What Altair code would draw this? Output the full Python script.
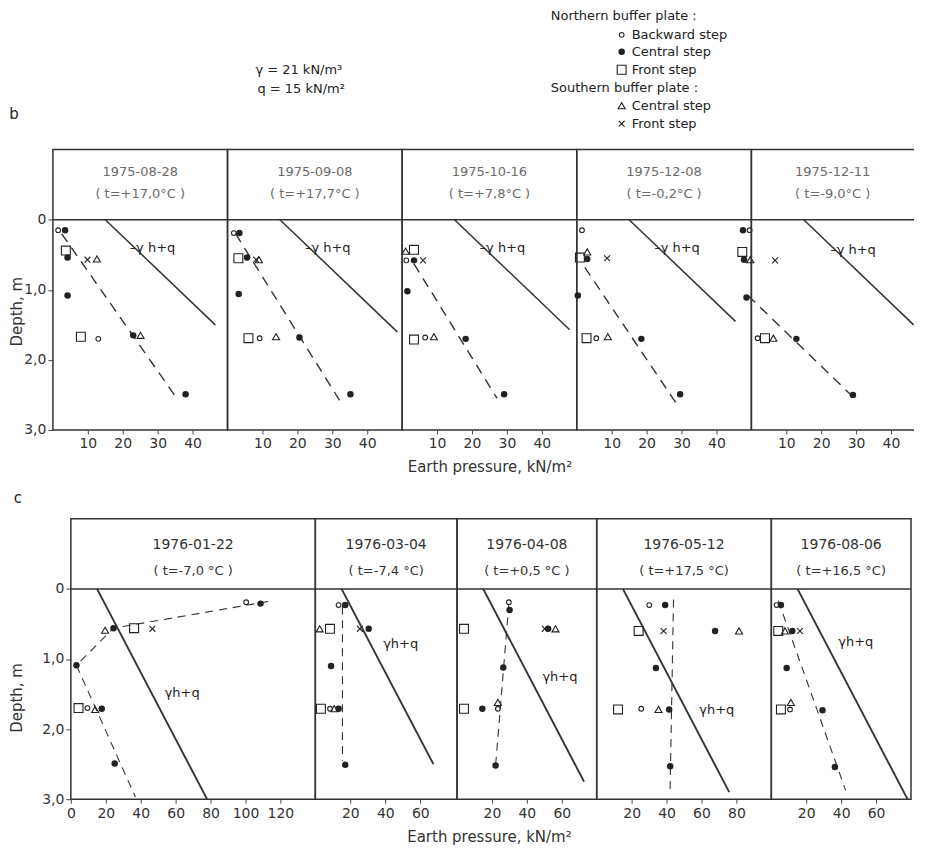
import altair as alt
import pandas as pd

# ---------------- parameters of the theoretical line  (gamma*h + q) ----------------
GAMMA = 21   # kN/m3
Q = 15       # kN/m2

# ---------------- panel headers ----------------
B_DATES = ["1975-08-28", "1975-09-08", "1975-10-16", "1975-12-08", "1975-12-11"]
B_TEMPS = ["( t=+17,0°C )", "( t=+17,7°C )", "( t=+7,8°C )", "( t=-0,2°C )", "( t=-9,0°C )"]
C_DATES = ["1976-01-22", "1976-03-04", "1976-04-08", "1976-05-12", "1976-08-06"]
C_TEMPS = ["( t=-7,0 °C  )", "( t=-7,4 °C)", "( t=+0,5 °C )", "( t=+17,5 °C)", "( t=+16,5 °C)"]

# x-axis ranges and tick labels
B_XMAX = [50, 50, 50, 50, 46.6]
C_XMAX = [140, 81, 80, 100, 80]
B_TICKS = [[10, 20, 30, 40]] * 5
C_TICKS = [[0, 20, 40, 60, 80, 100, 120], [20, 40, 60], [20, 40, 60], [20, 40, 60, 80], [20, 40, 60]]
Y_TICKS = [0, 1, 2, 3]

# depth where the gamma*h+q line ends, and depth of its label
B_LINE_END = [1.5, 1.6, 1.57, 1.45, 1.5]
C_LINE_END = [3.0, 2.5, 2.75, 2.9, 3.0]
B_LABEL_D = [0.40, 0.41, 0.41, 0.41, 0.43]
C_LABEL_D = [1.49, 0.78, 1.26, 1.73, 0.76]

# ---------------- measured earth pressure (kN/m2, depth m) ----------------
# series: back = northern backward step, cen = northern central step,
# front = northern front step, s_cen = southern central step, s_front = southern front step
B1_BACK = [(1.5, 0.15), (13.0, 1.70)]
B1_CEN = [(3.5, 0.15), (4.2, 0.54), (4.2, 1.08), (23.0, 1.65), (38.0, 2.49)]
B1_FRONT = [(3.7, 0.44), (8.0, 1.67)]
B1_SCEN = [(12.6, 0.56), (25.1, 1.65)]
B1_SFRONT = [(9.9, 0.57)]
B1_DASH = [(2.5, 0.20), (35.5, 2.55)]

B2_BACK = [(1.8, 0.19), (9.2, 1.69)]
B2_CEN = [(3.4, 0.19), (5.6, 0.54), (3.2, 1.06), (20.6, 1.68), (35.2, 2.49)]
B2_FRONT = [(3.1, 0.55), (6.0, 1.69)]
B2_SCEN = [(9.0, 0.57), (13.9, 1.67)]
B2_SFRONT = [(8.2, 0.57)]
B2_DASH = [(2.3, 0.20), (32.5, 2.61)]

B3_BACK = [(1.2, 0.58), (6.6, 1.68)]
B3_CEN = [(3.4, 0.58), (1.5, 1.02), (18.2, 1.70), (29.2, 2.49)]
B3_FRONT = [(3.4, 0.43), (3.4, 1.71)]
B3_SCEN = [(1.0, 0.45), (9.1, 1.67)]
B3_SFRONT = [(6.0, 0.58)]
B3_DASH = [(3.4, 0.63), (27.2, 2.55)]

B4_BACK = [(1.5, 0.15), (5.6, 1.69)]
B4_CEN = [(3.0, 0.56), (0.3, 1.08), (18.5, 1.70), (29.6, 2.49)]
B4_FRONT = [(0.9, 0.54), (2.8, 1.69)]
B4_SCEN = [(3.0, 0.46), (8.9, 1.67)]
B4_SFRONT = [(8.7, 0.55)]
B4_DASH = [(2.3, 0.68), (28.5, 2.62)]

B5_BACK = [(-0.5, 0.15), (1.8, 1.69)]
B5_CEN = [(-2.4, 0.15), (-2.1, 0.57), (-1.4, 1.11), (12.9, 1.70), (29.1, 2.50)]
B5_FRONT = [(-2.6, 0.46), (3.9, 1.69)]
B5_SCEN = [(-0.3, 0.57), (6.3, 1.69)]
B5_SFRONT = [(6.8, 0.58)]
B5_DASH = [(-1.0, 1.08), (29.6, 2.55)]

C1_BACK = [(100.4, 0.19), (9.5, 1.70)]
C1_CEN = [(108.6, 0.21), (24.4, 0.56), (3.2, 1.09), (17.7, 1.71), (25.1, 2.49)]
C1_FRONT = [(36.2, 0.56), (4.4, 1.70)]
C1_SCEN = [(19.6, 0.59), (13.9, 1.72)]
C1_SFRONT = [(46.7, 0.57)]
C1_DASH = [(113.0, 0.18), (24.4, 0.56), (3.2, 1.09), (37.0, 2.97)]

C2_BACK = [(13.3, 0.23), (8.4, 1.71)]
C2_CEN = [(17.1, 0.23), (30.5, 0.57), (9.0, 1.10), (13.3, 1.71), (17.1, 2.51)]
C2_FRONT = [(8.4, 0.57), (3.2, 1.71)]
C2_SCEN = [(2.5, 0.57), (10.8, 1.71)]
C2_SFRONT = [(25.5, 0.57)]
C2_DASH = [(15.5, 0.25), (15.5, 2.45)]

C3_BACK = [(29.7, 0.19), (23.4, 1.71)]
C3_CEN = [(30.1, 0.30), (52.2, 0.57), (26.5, 1.12), (14.5, 1.71), (22.1, 2.52)]
C3_FRONT = [(4.0, 0.57), (4.0, 1.71)]
C3_SCEN = [(56.4, 0.57), (23.4, 1.62)]
C3_SFRONT = [(50.3, 0.57)]
C3_DASH = [(29.7, 0.21), (22.1, 2.52)]

C4_BACK = [(30.1, 0.23), (25.5, 1.71)]
C4_CEN = [(39.2, 0.23), (67.8, 0.60), (33.9, 1.13), (41.5, 1.72), (42.1, 2.53)]
C4_FRONT = [(24.0, 0.60), (12.2, 1.72)]
C4_SCEN = [(81.5, 0.60), (35.4, 1.72)]
C4_SFRONT = [(38.3, 0.60)]
C4_DASH = [(44.0, 0.15), (42.0, 2.90)]

C5_BACK = [(3.0, 0.23), (10.7, 1.72)]
C5_CEN = [(5.5, 0.23), (12.0, 0.60), (8.8, 1.13), (29.3, 1.73), (36.4, 2.54)]
C5_FRONT = [(4.0, 0.60), (5.5, 1.72)]
C5_SCEN = [(7.8, 0.60), (11.2, 1.62)]
C5_SFRONT = [(16.4, 0.60)]
C5_DASH = [(4.0, 0.17), (42.5, 2.87)]

B_SETS = [
    (B1_BACK, B1_CEN, B1_FRONT, B1_SCEN, B1_SFRONT, B1_DASH),
    (B2_BACK, B2_CEN, B2_FRONT, B2_SCEN, B2_SFRONT, B2_DASH),
    (B3_BACK, B3_CEN, B3_FRONT, B3_SCEN, B3_SFRONT, B3_DASH),
    (B4_BACK, B4_CEN, B4_FRONT, B4_SCEN, B4_SFRONT, B4_DASH),
    (B5_BACK, B5_CEN, B5_FRONT, B5_SCEN, B5_SFRONT, B5_DASH),
]
C_SETS = [
    (C1_BACK, C1_CEN, C1_FRONT, C1_SCEN, C1_SFRONT, C1_DASH),
    (C2_BACK, C2_CEN, C2_FRONT, C2_SCEN, C2_SFRONT, C2_DASH),
    (C3_BACK, C3_CEN, C3_FRONT, C3_SCEN, C3_SFRONT, C3_DASH),
    (C4_BACK, C4_CEN, C4_FRONT, C4_SCEN, C4_SFRONT, C4_DASH),
    (C5_BACK, C5_CEN, C5_FRONT, C5_SCEN, C5_SFRONT, C5_DASH),
]

# ---------------- styling / layout ----------------
FONT = "DejaVu Sans"
INK = "#222222"
CROSS = "M-1,-1L1,1M-1,1L1,-1"
STYLES = [
    dict(shape="circle", filled=False, size=22),     # backward step
    dict(shape="circle", filled=True, size=42),      # central step
    dict(shape="square", filled=False, size=80),     # front step
    dict(shape="triangle-up", filled=False, size=50),  # southern central
    dict(shape=CROSS, filled=False, size=34),        # southern front
]
H = 281
B_W = [175, 175, 175, 175, 163]
C_W = [245, 142, 140, 175, 140]
C_INDENT = 18
ONE = pd.DataFrame({"k": [0]})
YLABEL = "datum.value == 0 ? '0' : replace(format(datum.value, '.1f'), '.', ',')"


def to_df(pairs):
    return pd.DataFrame({"x": [p[0] for p in pairs], "d": [p[1] for p in pairs],
                         "i": list(range(len(pairs)))})


def txt(s, x, y, size=13, align="left", color=INK):
    return alt.Chart(ONE).mark_text(text=s, fontSize=size, align=align, baseline="middle",
                                    color=color, font=FONT).encode(x=alt.value(x), y=alt.value(y))


def sym(style, x, y):
    return alt.Chart(ONE).mark_point(color=INK, strokeWidth=1.1, opacity=1, **style).encode(
        x=alt.value(x), y=alt.value(y))


def panel(row, i, date, temp, sets, line_end, lab_d, xmax, ticks, width):
    last = (row == "b" and i == 4)
    xs = alt.Scale(domain=[0, xmax], nice=False, zero=False)
    ys = alt.Scale(domain=[-1, 3], reverse=True, nice=False, zero=False)
    ax_kw = dict(values=ticks, grid=False, domain=False, tickSize=4, labelFlush=False,
                 labelOverlap=False, labelPadding=3)
    if i == 2:
        if row == "b":
            x_axis = alt.Axis(title="Earth  pressure,   kN/m²", titlePadding=9, **ax_kw)
        else:
            x_axis = alt.Axis(title="Earth  pressure,   kN/m²", titlePadding=9, titleX=32, **ax_kw)
    else:
        x_axis = alt.Axis(title=None, **ax_kw)
    if i == 0:
        y_axis = alt.Axis(values=Y_TICKS, title="Depth,  m", labelExpr=YLABEL, grid=False,
                          domain=False, tickSize=5, labelFlush=False, labelPadding=2,
                          titleX=(-36 if row == "b" else -54), titleY=(162 if row == "b" else 179),
                          titleBaseline="middle", titleAngle=270)
    else:
        y_axis = None

    def enc():
        return dict(x=alt.X("x:Q", scale=xs, axis=x_axis), y=alt.Y("d:Q", scale=ys, axis=y_axis),
                    order=alt.Order("i:Q"))

    layers = []
    # header separator (depth 0)
    layers.append(alt.Chart(ONE).mark_rule(color="#333", strokeWidth=1.5).encode(
        y=alt.Y(datum=0, type="quantitative", scale=ys, axis=y_axis)))
    # gamma*h + q line
    solid = to_df([(Q, 0.0), (Q + GAMMA * line_end, line_end)])
    layers.append(alt.Chart(solid).mark_line(color="#333", strokeWidth=(1.5 if row == "b" else 1.9))
                  .encode(**enc()))
    # dashed trend line
    back, cen, front, scen, sfront, dash = sets
    layers.append(alt.Chart(to_df(dash)).mark_line(
        color="#333", strokeWidth=(1.4 if row == "b" else 1.1),
        strokeDash=([10, 7] if row == "b" else [8, 6])).encode(**enc()))
    # measured points
    for pts, st in zip([front, back, scen, sfront, cen], [STYLES[2], STYLES[0], STYLES[3], STYLES[4], STYLES[1]]):
        layers.append(alt.Chart(to_df(pts)).mark_point(color=INK, strokeWidth=1.1, opacity=1, **st)
                      .encode(x=alt.X("x:Q", scale=xs, axis=x_axis), y=alt.Y("d:Q", scale=ys, axis=y_axis)))
    # label of the gamma*h+q line
    lab = pd.DataFrame({"x": [Q + GAMMA * lab_d], "d": [lab_d]})
    if row == "b":
        layers.append(alt.Chart(lab).mark_text(text="–γ h+q", align="left", baseline="middle", dx=-5,
                                               fontSize=13, color=INK, font=FONT)
                      .encode(x=alt.X("x:Q", scale=xs, axis=x_axis), y=alt.Y("d:Q", scale=ys, axis=y_axis)))
    else:
        layers.append(alt.Chart(lab).mark_text(text="γh+q", align="left", baseline="middle", dx=13,
                                               fontSize=13, color=INK, font=FONT)
                      .encode(x=alt.X("x:Q", scale=xs, axis=x_axis), y=alt.Y("d:Q", scale=ys, axis=y_axis)))
    # header texts
    if row == "b":
        layers.append(txt(date, width / 2, 22, size=13, align="center", color="#6a6a6a"))
        layers.append(txt(temp, width / 2, 44, size=13, align="center", color="#6a6a6a"))
    else:
        layers.append(txt(date, width / 2, 26, size=14, align="center", color="#333"))
        layers.append(txt(temp, width / 2, 52, size=13, align="center", color="#333"))

    if last:
        for e in [dict(x=alt.value(0)), dict(y=alt.value(0)), dict(y=alt.value(H))]:
            layers.append(alt.Chart(ONE).mark_rule(color="#333", strokeWidth=1.5).encode(**e))

    if row == "b" and i == 0:
        # legend and parameters above the figure
        layers += [
            txt("Northern  buffer plate :", 499, -134),
            sym(STYLES[0], 570, -115), txt("Backward  step", 580, -115),
            sym(STYLES[1], 570, -98), txt("Central  step", 580, -98),
            sym(STYLES[2], 570, -80), txt("Front  step", 580, -80),
            txt("Southern  buffer plate :", 499, -62),
            sym(STYLES[3], 570, -44), txt("Central  step", 580, -44),
            sym(STYLES[4], 570, -26), txt("Front  step", 580, -26),
            txt("γ = 21  kN/m³", 203, -80),
            txt("q = 15  kN/m²", 205, -61),
            txt("b", -39, -36, size=15, align="center"),
        ]
    if row == "c" and i == 0:
        layers.append(txt("c", -53, -21, size=15, align="center"))

    ch = alt.layer(*layers).properties(width=width, height=H)
    if last:
        ch = ch.properties(view=alt.ViewBackground(stroke="transparent"))
    return ch


b_panels = [panel("b", i, B_DATES[i], B_TEMPS[i], B_SETS[i], B_LINE_END[i], B_LABEL_D[i],
                  B_XMAX[i], B_TICKS[i], B_W[i]) for i in range(5)]
c_panels = [panel("c", i, C_DATES[i], C_TEMPS[i], C_SETS[i], C_LINE_END[i], C_LABEL_D[i],
                  C_XMAX[i], C_TICKS[i], C_W[i]) for i in range(5)]

# invisible indent so that row c starts further right than row b
spacer = (alt.Chart(ONE).mark_point(opacity=0).encode(x=alt.value(0), y=alt.value(0))
          .properties(width=C_INDENT, height=H, view=alt.ViewBackground(stroke="transparent")))

row_b = alt.hconcat(*b_panels, spacing=0, bounds="flush").resolve_scale(x="independent", y="independent")
row_c = alt.hconcat(spacer, *c_panels, spacing=0, bounds="flush").resolve_scale(x="independent", y="independent")

chart = (
    alt.vconcat(row_b, row_c, spacing=14)
    .resolve_scale(x="independent", y="independent")
    .properties(padding={"left": 0, "top": 0, "right": 0, "bottom": 0})
    .configure_view(stroke="#333", strokeWidth=1.5)
    .configure_axis(labelFont=FONT, labelFontSize=14, labelColor="#333", tickColor="#444",
                    titleFont=FONT, titleFontSize=15, titleFontWeight="normal", titleColor="#333")
    .configure_text(font=FONT)
)

chart.save("out.html", embed_options={"renderer": "svg", "actions": False})
